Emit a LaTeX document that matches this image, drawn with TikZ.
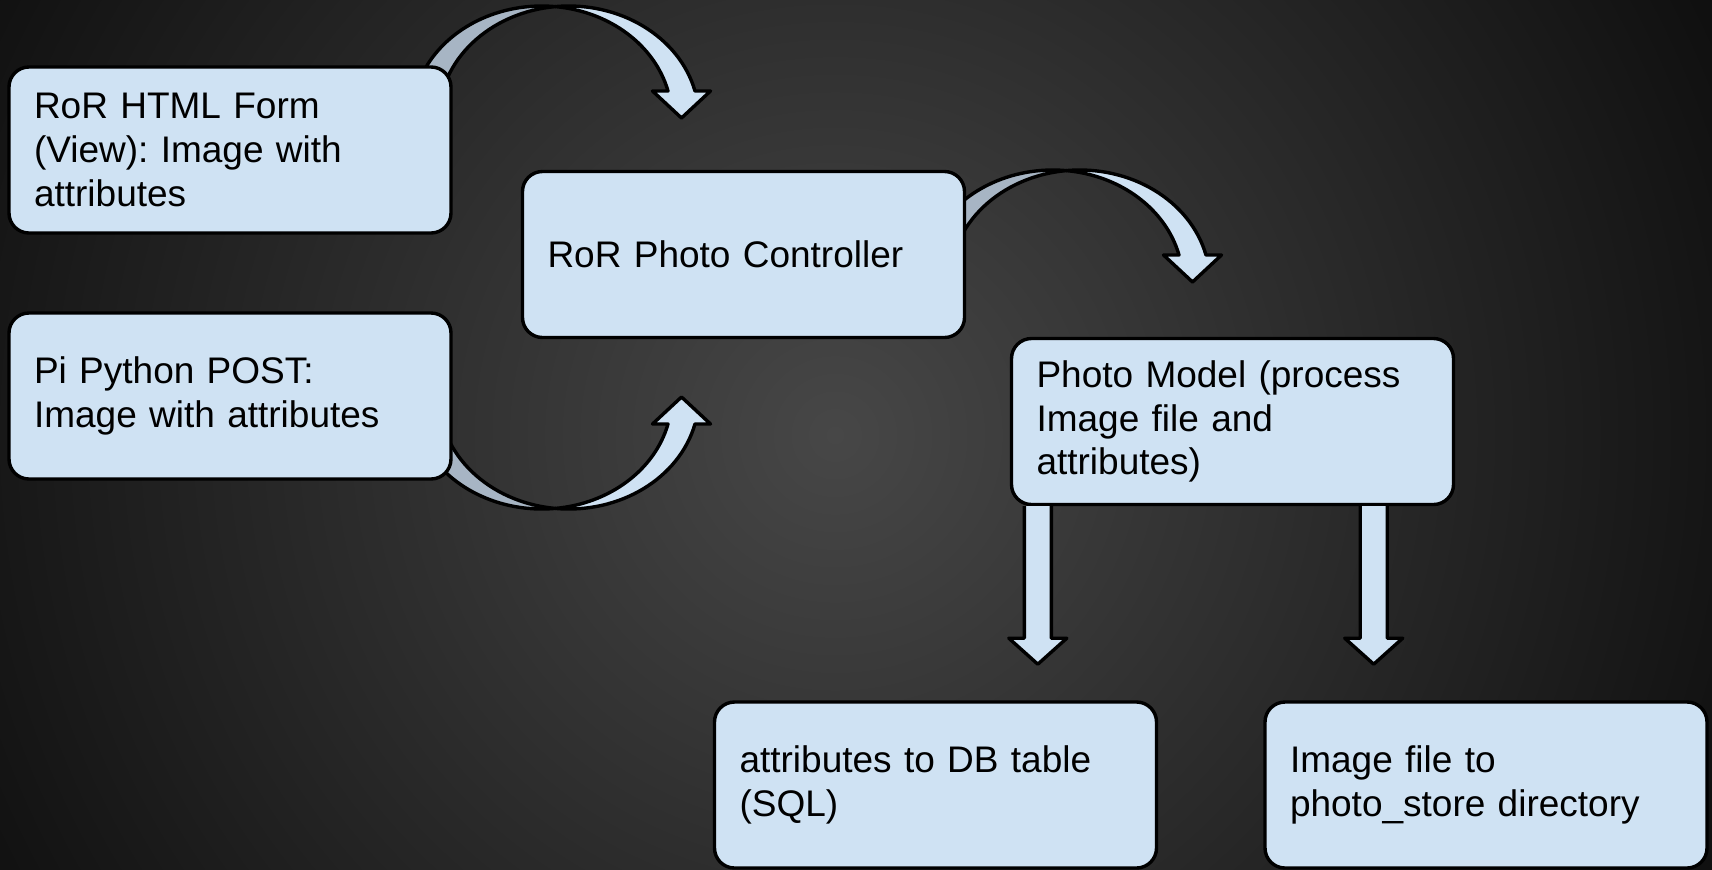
\documentclass[tikz,border=0pt]{standalone}
\usepackage{fontspec}
\setmainfont{Liberation Sans}
\frenchspacing
\usetikzlibrary{calc}
\definecolor{Ice}{HTML}{CFE2F3}
\definecolor{IceShade}{HTML}{A7B5C4}
\definecolor{GlowMid}{HTML}{474747}
\definecolor{GlowCorner}{HTML}{0F0F0F}
\pgfdeclareradialshading{glow}{\pgfpoint{0bp}{0bp}}{color(0bp)=(GlowMid); color(25bp)=(GlowCorner); color(50bp)=(GlowCorner)}
\tikzset{
  card/.style={draw=black,line width=1.7pt,fill=Ice,rounded corners=10pt,minimum height=83pt,
    text width=196pt,inner xsep=12.5pt,align=left,font=\fontsize{18.5}{21.8}\selectfont},
  blockline/.style={draw=black,line width=1.7pt,line join=round},
  bentarrow/.pic={
    % back face, half hidden by the source box
    \draw[blockline,fill=IceShade] (-130,0) arc[start angle=-180,end angle=-84.04,x radius=130,y radius=112]
      arc[start angle=-95.96,end angle=-180,x radius=130,y radius=112] -- cycle;
    % front face with head
    \draw[blockline,fill=Ice] (13.5,-111.4) arc[start angle=-95.96,end angle=-13.95,x radius=130,y radius=112]
      -- (168.7,-27) -- (139.7,0) -- (110.7,-27) -- (126.2,-27)
      arc[start angle=-13.95,end angle=-84.04,x radius=130,y radius=112] -- cycle;
  },
}
\begin{document}
\begin{tikzpicture}[x=0.5pt,y=-0.5pt]
    \useasboundingbox (0,0) rectangle (1712,869);
    \begin{scope}
      \clip (0,0) rectangle (1712,869);
      \fill[GlowCorner] (0,0) rectangle (1712,869);
      \shade[shading=glow] (835,435) circle[radius=985];
    \end{scope}

    % curved arrows sit under the boxes
    \pic at (541.8,118) {bentarrow};
    \pic[yscale=-1] at (541.8,397) {bentarrow};
    \pic at (1052.8,282) {bentarrow};

    \node[card] (form) at (230,150) {RoR HTML Form\\(View): Image with\\attributes};
    \node[card] (post) at (230,396) {Pi Python POST:\\Image with attributes};
    \node[card] (controller) at (743.5,254.5) {RoR Photo Controller};
    \node[card] (model) at (1232.5,421.5) {Photo Model (process\\Image file and\\attributes)};
    \node[card] (dbtable) at (935.5,785) {attributes to DB table\\(SQL)};
    \node[card] (store) at (1486,785) {Image file to\\photo\_store directory};

    % straight block arrows out of the model
    \draw[blockline,fill=Ice] ($(model.south west)+(14.5,0)$) -- ++(0,132) -- ++(-15.5,0) -- ++(29,26)
      -- ++(29,-26) -- ++(-15.5,0) -- ++(0,-132);
    \draw[blockline,fill=Ice] ($(model.south east)+(-95,0)$) -- ++(0,132) -- ++(-15.5,0) -- ++(29,26)
      -- ++(29,-26) -- ++(-15.5,0) -- ++(0,-132);
  \end{tikzpicture}
\end{document}
